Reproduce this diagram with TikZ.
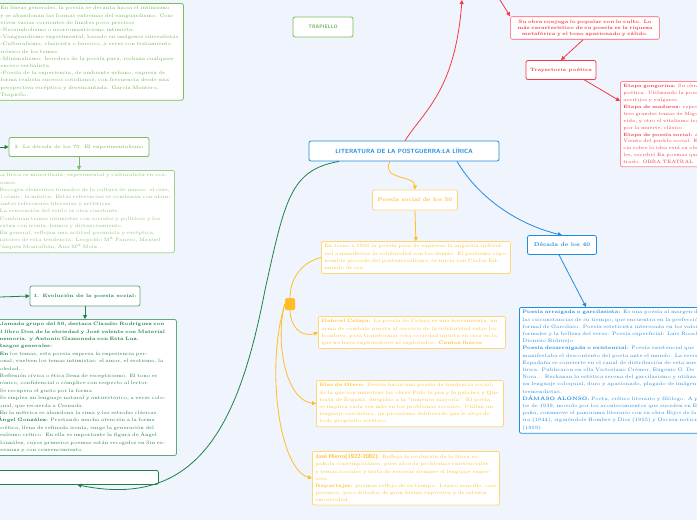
\documentclass[tikz,border=0pt]{standalone}
\usepackage{tikz}
\usetikzlibrary{positioning,arrows.meta}
\definecolor{bgblue}{RGB}{240,244,252}
\definecolor{rojo}{RGB}{240,60,70}
\definecolor{rosa}{RGB}{255,140,150}
\definecolor{naranja}{RGB}{255,190,40}
\definecolor{naranjal}{RGB}{255,215,120}
\definecolor{azul}{RGB}{30,140,225}
\definecolor{azulc}{RGB}{100,180,245}
\definecolor{verde}{RGB}{30,130,70}
\definecolor{verdel}{RGB}{120,190,90}
\definecolor{verdet}{RGB}{110,180,80}
\tikzset{
	caja/.style={draw, fill=white, rounded corners=2pt, line width=0.8pt, inner sep=3pt},
	texto/.style={caja, align=left, anchor=north west, font=\fontsize{4.9}{7.2}\selectfont},
	titulo/.style={caja, align=center, font=\fontsize{5.5}{7}\selectfont\bfseries},
	flecha/.style={-{Triangle[length=4pt,width=4pt]}, line width=0.8pt}
}
\begin{document}
\begin{tikzpicture}[x=1pt,y=-1pt]
				\fill[bgblue] (0,0) rectangle (697,520);
				\useasboundingbox (0,0) rectangle (697,520);
				
				% rama central
				\node[titulo, draw=azul, text=azul, font=\fontsize{6}{7}\sffamily\bfseries, minimum width=190pt, minimum height=20pt] (main) at (404,151) {LITERATURA DE LA POSTGUERRA:LA LÍRICA};
				
				% rama roja
				\node[titulo, draw=rosa, text=rojo, text width=143pt, font=\fontsize{4.8}{6.2}\selectfont\bfseries] (obra) at (585,28) {Su obra conjuga lo popular con lo culto. Lo más característico de su poesía es la riqueza metafórica y el tono apasionado y cálido.};
				\node[titulo, draw=rojo, text=rojo, minimum width=70pt, minimum height=19pt, font=\fontsize{4.8}{6}\selectfont\bfseries] (tray) at (561,70) {Trayectoria poética};
				\node[texto, draw=rosa, text=rojo, text width=130pt, font=\fontsize{4.7}{6.9}\selectfont] (etapas) at (620,81) {\textbf{Etapa gongorina:} Su obra es una incursión poética. Utilizando la poesía realiza pequeños acertijos y vulgares.\\ \textbf{Etapa de madurez:} representa, aparecen los tres grandes temas de Miguel: amor, muerte y vida, y otro el vitalismo trágico de amenazados por la muerte, clásico.\\ \textbf{Etapa de poesía social:} al civil. El libro Viento del pueblo social. En la misma tendencia sobre la idea está su obra: diversas cárceles, escribió En poemas que recuerdan concentrado. OBRA TEATRAL};
				\coordinate (arriba) at (462,0);
				\coordinate (arribab) at (500,0);
				
				% rama naranja
				\node[titulo, draw=naranjal, text=naranja, minimum width=85pt, minimum height=20pt] (cin) at (415,200) {Poesía social de los 50};
				\node[texto, draw=naranjal, text=naranja, text width=183pt] (torno) at (321,241) {En torno a 1950 la poesía pasa de expresar la angustia individual a manifestar la solidaridad con los demás. El postismo cuyo nombre procede del postsurrealismo, se inicia con Carlos Edmundo de ory.};
				\node[texto, draw=naranjal, text=naranja, text width=181pt] (celaya) at (318,316) {\textbf{Gabriel Celaya:} La poesía de Celaya es una herramienta, un arma de combate puesta al servicio de la solidaridad entre los hombres, para transformar esta sociedad injusta en otra en la que no haya explotadores ni explotados. \textbf{Cantos íberos}};
				\node[texto, draw=naranjal, text=naranja, text width=181pt] (blas) at (316,380) {\textbf{Blas de Otero:} Deriva hacia una poesía de tendencia social, de la que son muestras las obras Pido la paz y la palabra y Que trata de España, dirigidas a la ``inmensa mayoría''. El poeta se implica cada vez más en los problemas sociales. Utiliza un lenguaje sarcástico, un prosaísmo deliberado que le aleja de todo propósito estético.};
				\node[texto, draw=naranjal, text=naranja, text width=181pt] (hierro) at (312,451) {{\fontsize{5.8}{6}\sffamily\bfseries José Hierro(1922-2002):} Refleja la evolución de la lírica española contemporánea, pues aborda problemas existenciales y temas sociales y trata de renovar siempre el lenguaje expresivo.\\ \textbf{Reportajes:} poemas reflejo de su tiempo. Léxico sencillo, casi prosaico, pero dotados de gran fuerza expresiva y de intensa emotividad.};
				\node[fill=naranja, rounded corners=1.5pt, minimum width=10pt, minimum height=12pt, inner sep=0pt] (nudo) at (290,304) {};
				
				% rama azul
				\node[titulo, draw=azul, text=azul, minimum width=69pt, minimum height=19pt] (cua) at (562,245) {Década de los 40};
				\node[texto, draw=azul, text=azul, text width=185pt] (arraigada) at (519,307) {\textbf{Poesía arraigada o garcilasista:} Es una poesía al margen de las circunstancias de su tiempo, que encuentra en la perfección formal de Garcilaso. Poesía esteticista interesada en los valores formales y la belleza del verso. Poesía superficial: Luis Rosales, Dionisio Ridruejo.\\ \textbf{Poesía desarraigada o existencial:} Poesía existencial que manifestaba el descontento del poeta ante el mundo. La revista Espadaña se convierte en el canal de distribución de esta nueva lírica. Publicaron en ella Victoriano Crémer, Eugenio G. De Nora... Rechazan la estética serena del garcilasismo y utilizan un lenguaje coloquial, duro y apasionado, plagado de imágenes tremendistas.\\ \textbf{DÁMASO ALONSO:} Poeta, crítico literario y filólogo. A partir de 1939, movido por los acontecimientos que suceden en España, conmueve el panorama literario con su obra Hijos de la ira (1944), siguiéndole Hombre y Dios (1955) y Oscura noticia (1959).};
				
				% rama verde
				\node[titulo, draw=verdel, text=verdet, minimum width=60pt, minimum height=20pt, font=\fontsize{5}{6}\sffamily\bfseries] (trap) at (323,27) {TRAPIELLO};
				\node[texto, draw=verdel, text=verdet, text width=180pt] (lineas) at (-3,3) {En líneas generales, la poesía se decanta hacia el intimismo y se abandonan las formas extremas del vanguardismo. Conviven varias corrientes de límites poco precisos\\ -Neosimbolismo o neorromanticismo intimista.\\ -Vanguardismo experimental, basado en imágenes surrealistas\\ -Culturalismo, clasicista o barroco, a veces con tratamiento irónico de los temas.\\ -Minimalismo: heredero de la poesía pura, rechaza cualquier exceso verbalista.\\ -Poesía de la experiencia, de ambiente urbano, expresa de forma realista sucesos cotidianos, con frecuencia desde una perspectiva escéptica y desencantada. García Montero, Trapiello.};
				\node[titulo, draw=verdel, text=verdet, minimum width=140pt, minimum height=19pt, font=\fontsize{4.8}{6}\selectfont] (setenta) at (79,147) {2. La década de los 70. El experimentalismo};
				\node[texto, draw=verdel!70, text=verdet!80, text width=174pt] (minor) at (-6,170) {La lírica es minoritaria, experimental y culturalista en ocasiones.\\ -Recogen elementos tomados de la cultura de masas: el cine, el cómic, la música. Estas referencias se combinan con abundantes referencias literarias y artísticas.\\ -La renovación del estilo es otra constante.\\ -Combinan temas intimistas con sociales y políticos y los tratan con ironía, humor y distanciamiento.\\ -En general, reflejan una actitud pesimista y escéptica. Autores de esta tendencia: Leopoldo M$^{\rm a}$ Panero, Manuel Vázquez Montalbán, Ana M$^{\rm a}$ Moix...};
				\node[caja, draw=verde, minimum width=162pt, minimum height=14pt, anchor=north west] (fondo) at (-4,470) {};
				\node[titulo, draw=verde!70, text=verde, minimum width=110pt, minimum height=20pt, font=\fontsize{4.8}{6}\selectfont\bfseries] (evol) at (85,296) {1. Evolución de la poesía social:};
				\node[texto, draw=verde!70, text=verde, text width=176pt, font=\fontsize{4.8}{7.4}\selectfont] (grupo) at (-6,319) {\textbf{Llamada grupo del 50, destaca Claudio Rodríguez con el libro Don de la ebriedad y José valente con Material memoria. y Antonio Gamoneda con Esta Luz.\\ Rasgos generales:}\\ -\textbf{En} los temas, esta poesía expresa la experiencia personal, vuelven los temas intimistas: el amor, el erotismo, la soledad...\\ -Reflexión cívica o ética llena de escepticismo. El tono es irónico, confidencial o cómplice con respecto al lector.\\ -Se recupera el gusto por la forma\\ -Se emplea un lenguaje natural y antirretórico, a veces coloquial, que recuerda a Cernuda.\\ -En la métrica se abandona la rima y las estrofas clásicas.\\ \textbf{Ángel González:} Prestando mucha atención a la forma poética, llena de refinada ironía, surge la generación del realismo crítico. En ella es importante la figura de Ángel González, cuyos primeros poemas están recogidos en Sin esperanza y con convencimiento.};
				\coordinate (izq1) at (0,147);
				\coordinate (izq2) at (0,297);
				
				% conectores
				\draw[flecha, rojo] (main.north -| 405,0) .. controls (425,110) and (455,90) .. (arriba);
				\draw[flecha, rojo] (arribab) -- (obra.north west);
				\draw[flecha, rojo] (obra.south) ++(-2,0) -- (tray.north);
				\draw[flecha, rojo] (tray.south east) ++(-12,0) -- (etapas.west |- 0,101);
				\draw[flecha, naranja] (main.south -| 390,0) .. controls (380,180) and (415,175) .. (cin.north);
				\draw[flecha, naranja] (cin.south) -- (torno.north);
				\draw[line width=0.8pt, naranja] (torno.west) .. controls (300,263) and (290,280) .. (nudo.north);
				\draw[flecha, naranja] (nudo.south) .. controls (290,325) and (300,338) .. (celaya.west);
				\draw[flecha, naranja] (nudo.west) .. controls (275,340) and (285,400) .. (blas.west);
				\draw[flecha, naranja] (nudo.west) .. controls (265,370) and (280,470) .. (hierro.west);
				\draw[flecha, azul] (main.south -| 457,0) .. controls (480,200) and (520,225) .. (cua.north);
				\draw[flecha, azul] (cua.south) ++(-3,0) -- (arraigada.north -| 586,0);
				\draw[flecha, verde] (main.south -| 339,0) .. controls (290,170) and (285,200) .. (265,290) .. controls (240,420) and (200,510) .. (fondo.south);
				\draw[flecha, verde] (izq1) -- (setenta.west);
				\draw[flecha, verdel] (setenta.south) -- (minor.north -| setenta.south);
				\draw[flecha, verde] (izq2) -- (evol.west);
				\draw[flecha, verde] (evol.south) -- (grupo.north -| evol.south);
\end{tikzpicture}
\end{document}
